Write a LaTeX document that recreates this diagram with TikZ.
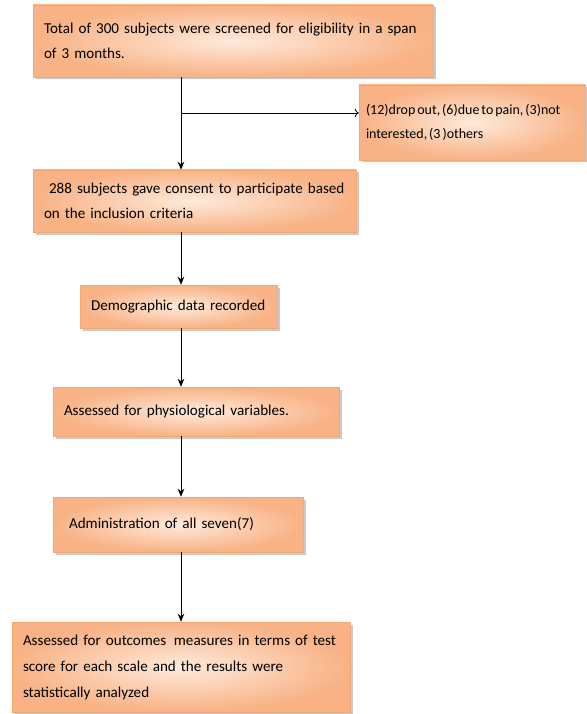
\documentclass[tikz,border=0pt]{standalone}
\usepackage{fontspec}
\setmainfont{Carlito}
\usetikzlibrary{shadows,arrows.meta}
\definecolor{peach}{HTML}{F8B285}
\definecolor{peachlight}{HTML}{FEEADB}
\definecolor{peachline}{HTML}{F4A770}
\begin{document}
\begin{tikzpicture}[x=1pt, y=-1pt, font=\fontsize{15.1}{24.5}\selectfont, line join=round, >={Stealth[length=8pt,width=6.5pt]},
	box/.style={draw=peachline, line width=0.5pt, inner color=peachlight, outer color=peach,
		drop shadow={shadow xshift=2.5pt, shadow yshift=-2.5pt, fill=black!35, opacity=0.6},
		align=left, inner xsep=11pt, inner ysep=4pt},
	link/.style={->, line width=0.8pt}]
	\useasboundingbox (0,0) rectangle (586,714);
	% boxes
	\node[box, text width=378pt, minimum height=72pt] (screen) at (233,41)
		{Total of 300 subjects were screened for eligibility in a span\\of 3 months.};
	\node[box, text width=212pt, inner xsep=7pt, minimum height=75pt, font=\fontsize{14}{24.5}\selectfont] (drop) at (472,122.5)
		{\spaceskip=0.14em\relax(12)drop out, (6)due to pain, (3)not\\interested, (3 )others};
	\node[box, text width=301pt, minimum height=62pt] (consent) at (194.5,201)
		{\ 288 subjects gave consent to participate based\\on the inclusion criteria};
	\node[box, text width=175pt, minimum height=43pt] (demo) at (178.5,306.5)
		{Demographic data recorded};
	\node[box, text width=264pt, minimum height=49pt] (physio) at (196,411.5)
		{Assessed for physiological variables.};
	\node[box, text width=228pt, minimum height=55pt] (admin) at (178,524.5)
		{\ Administration of all seven(7)};
	\node[box, text width=316pt, minimum height=90pt, font=\fontsize{15.1}{26}\selectfont] (outcome) at (181,667)
		{Assessed for outcomes\, measures in terms of test\\score for each scale and the results were\\statistically analyzed};
	% connectors
	\coordinate (spine) at (181,0);
	\coordinate (split) at (181,113);
	\draw[link] (screen.south -| spine) -- (consent.north -| spine);
	\draw[-{To[length=4pt]}, line width=0.8pt] (split) -- (drop.west |- split);
	\foreach \a/\b in {consent/demo, demo/physio, physio/admin, admin/outcome}
		\draw[link] (\a.south -| spine) -- (\b.north -| spine);
\end{tikzpicture}
\end{document}
